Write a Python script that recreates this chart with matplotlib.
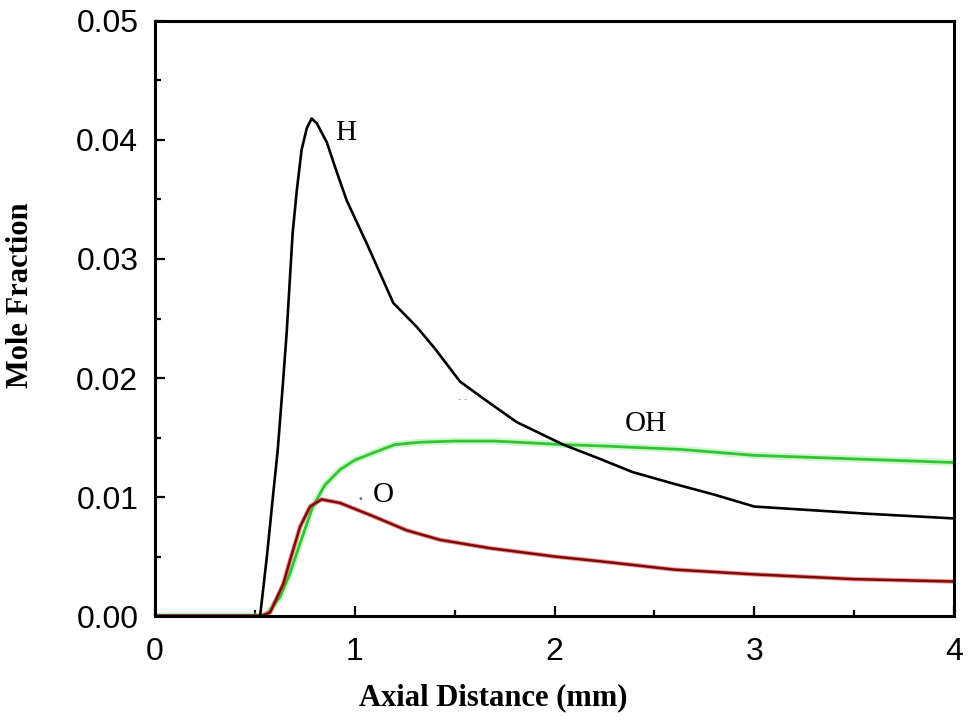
import matplotlib
matplotlib.use("Agg")
import matplotlib.pyplot as plt
from matplotlib.ticker import MultipleLocator, FormatStrFormatter

# Axial distance (mm) and mole fractions of H, OH and O
x_h = [0.0, 0.50, 0.526, 0.56, 0.59, 0.614, 0.64, 0.659, 0.689, 0.71, 0.734,
       0.76, 0.784, 0.81, 0.86, 0.91, 0.96, 1.06, 1.193, 1.31, 1.40, 1.527,
       1.65, 1.81, 2.044, 2.228, 2.39, 2.60, 2.80, 3.00, 3.56, 4.00]
h = [0.0, 0.0, 0.0, 0.0050, 0.0100, 0.0139, 0.0195, 0.0238, 0.0322, 0.0358,
     0.0392, 0.0410, 0.0418, 0.0414, 0.0398, 0.0373, 0.0349, 0.0313, 0.0263,
     0.0243, 0.0225, 0.0197, 0.0182, 0.0163, 0.0144, 0.0132, 0.0121, 0.0111,
     0.0102, 0.0092, 0.0086, 0.0082]

x_oh = [0.0, 0.52, 0.559, 0.626, 0.676, 0.726, 0.79, 0.85, 0.926, 1.00, 1.09,
        1.20, 1.327, 1.50, 1.70, 2.044, 2.228, 2.63, 3.00, 3.50, 4.00]
oh = [0.0, 0.0, 0.0001, 0.0016, 0.0036, 0.0061, 0.0092, 0.0110, 0.0123,
      0.0131, 0.0137, 0.0144, 0.0146, 0.0147, 0.0147, 0.0144, 0.0143, 0.0140,
      0.0135, 0.0132, 0.0129]

x_o = [0.0, 0.53, 0.576, 0.642, 0.676, 0.726, 0.776, 0.834, 0.926, 1.09,
       1.26, 1.427, 1.677, 2.00, 2.228, 2.60, 3.00, 3.50, 4.00]
o = [0.0, 0.0, 0.0003, 0.0027, 0.0047, 0.0075, 0.0092, 0.0098, 0.0095,
     0.0084, 0.0072, 0.0064, 0.0057, 0.0050, 0.0046, 0.0039, 0.0035, 0.0031,
     0.0029]

species_labels = ["H", "OH", "O"]
label_pos = [(0.90, 0.0406), (2.35, 0.0161), (1.09, 0.0102)]

fig = plt.figure(figsize=(9.69, 7.21), dpi=100)
ax = fig.add_axes([0.160, 0.1456, 0.8245, 0.8253])

ax.plot(x_oh, oh, color="#a8f0a8", lw=5.0, alpha=0.55, solid_capstyle="round")
ax.plot(x_oh, oh, color="#33c433", lw=2.0)
ax.plot(x_o, o, color="#e83a3a", lw=3.2, alpha=0.55)
ax.plot(x_o, o, color="#7a0c0c", lw=1.8)
ax.plot(x_h, h, color="black", lw=1.9)

for txt, (lx, ly) in zip(species_labels, label_pos):
    ax.text(lx, ly, txt, family="Liberation Serif", fontsize=21,
            ha="left", va="center")
ax.text(1.03, 0.0101, ".", family="Liberation Serif", fontsize=16,
        ha="center", va="center", color="#666666")
ax.text(1.54, 0.0182, "- -", family="Liberation Sans", fontsize=7,
        ha="center", va="center", color="#9a9a9a")

ax.set_xlim(0, 4)
ax.set_ylim(0, 0.05)
ax.xaxis.set_major_locator(MultipleLocator(1))
ax.xaxis.set_minor_locator(MultipleLocator(0.5))
ax.yaxis.set_major_locator(MultipleLocator(0.01))
ax.yaxis.set_minor_locator(MultipleLocator(0.005))
ax.yaxis.set_major_formatter(FormatStrFormatter("%.2f"))

ax.tick_params(which="both", direction="in", top=False, right=False, width=1.6)
ax.tick_params(which="major", length=7, labelsize=23)
ax.tick_params(which="minor", length=4)
ax.tick_params(axis="x", which="major", pad=15)
ax.tick_params(axis="y", which="major", pad=12)
for lab in ax.get_xticklabels() + ax.get_yticklabels():
    lab.set_family("Liberation Sans")
for sp in ax.spines.values():
    sp.set_linewidth(2.2)

ax.set_xlabel("Axial Distance (mm)", family="Liberation Serif",
              fontweight="bold", fontsize=22)
ax.set_ylabel("Mole Fraction", family="Liberation Serif",
              fontweight="bold", fontsize=22)
ax.xaxis.set_label_coords(0.423, -0.113)
ax.yaxis.set_label_coords(-0.150, 0.539)

fig.savefig("out.png", dpi=100)
